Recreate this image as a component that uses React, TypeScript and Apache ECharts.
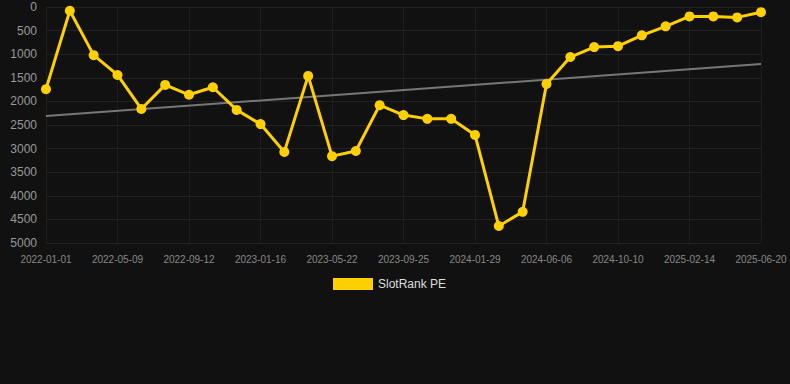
import React, { useEffect, useRef } from "react";
import * as echarts from "echarts";

const categories = [
  "2022-01-01", "2022-02-12", "2022-03-26", "2022-05-09", "2022-06-20", "2022-08-01",
  "2022-09-12", "2022-10-24", "2022-12-05", "2023-01-16", "2023-02-27", "2023-04-10",
  "2023-05-22", "2023-07-03", "2023-08-14", "2023-09-25", "2023-11-06", "2023-12-18",
  "2024-01-29", "2024-03-11", "2024-04-23", "2024-06-06", "2024-07-18", "2024-08-29",
  "2024-10-10", "2024-11-21", "2025-01-02", "2025-02-14", "2025-03-28", "2025-05-09",
  "2025-06-20",
];

const slotRankPE = [
  1740, 80, 1020, 1440, 2160, 1650, 1860, 1700, 2180, 2480, 3070, 1460,
  3160, 3050, 2080, 2290, 2370, 2370, 2710, 4640, 4340, 1630, 1060, 850,
  830, 600, 410, 200, 200, 220, 110,
];

const trendStart = 2310;
const trendEnd = 1210;
const trend = categories.map((_, i) =>
  i === 0 ? trendStart : i === categories.length - 1 ? trendEnd : null
);

const yTicks = { min: 0, max: 5000, interval: 500 };

export default function App() {
  const ref = useRef<HTMLDivElement>(null);
  useEffect(() => {
    document.body.style.margin = "0";
    document.body.style.background = "#111111";
    const chart = echarts.init(ref.current!, null, { renderer: "svg" });
    chart.setOption({
      animation: false,
      backgroundColor: "#111111",
      grid: { left: 46, right: 29, top: 7, bottom: 141, containLabel: false },
      legend: {
        top: 278,
        left: 333,
        padding: 0,
        data: [{ name: "SlotRank PE", icon: "rect" }],
        itemWidth: 40,
        itemHeight: 12,
        itemGap: 10,
        textStyle: { color: "#dddddd", fontSize: 12, fontFamily: "Arial, Liberation Sans, sans-serif" },
      },
      xAxis: {
        type: "category",
        data: categories,
        boundaryGap: false,
        axisLine: { show: false },
        axisTick: { show: false },
        axisLabel: {
          interval: 2,
          color: "#888888",
          fontSize: 10,
          margin: 11,
          fontFamily: "Arial, Liberation Sans, sans-serif",
        },
        splitLine: { show: true, interval: 2, lineStyle: { color: "#1e1e1e", width: 1 } },
      },
      yAxis: {
        type: "value",
        inverse: true,
        min: yTicks.min,
        max: yTicks.max,
        interval: yTicks.interval,
        axisLine: { show: false },
        axisTick: { show: false },
        axisLabel: {
          color: "#999999",
          fontSize: 12,
          margin: 9,
          formatter: (v: number) => String(v),
          fontFamily: "Arial, Liberation Sans, sans-serif",
        },
        splitLine: { show: true, lineStyle: { color: "#222222", width: 1 } },
      },
      series: [
        {
          name: "Trend",
          type: "line",
          data: trend,
          connectNulls: true,
          showSymbol: false,
          symbol: "none",
          lineStyle: { color: "#777777", width: 2 },
          z: 1,
        },
        {
          name: "SlotRank PE",
          type: "line",
          data: slotRankPE,
          symbol: "circle",
          symbolSize: 10,
          itemStyle: { color: "#FFD000" },
          lineStyle: { color: "#FFD000", width: 3 },
          z: 2,
        },
      ],
    });
    return () => chart.dispose();
  }, []);
  return <div ref={ref} style={{ width: 790, height: 384 }} />;
}
